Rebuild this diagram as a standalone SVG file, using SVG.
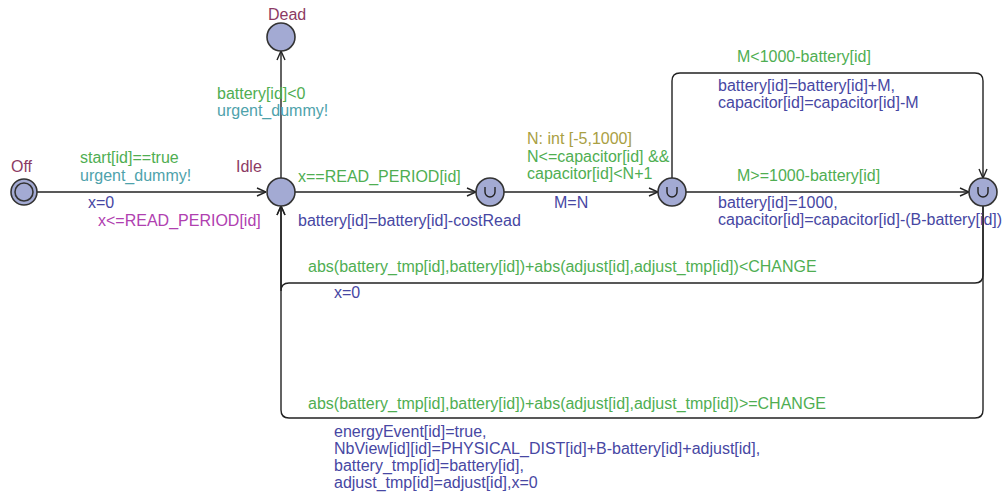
<svg xmlns="http://www.w3.org/2000/svg" width="1003" height="497" viewBox="0 0 1003 497">
  <style>
    text { font-family: "Liberation Sans", Arial, sans-serif; font-size: 16px; }
    .name { fill: #8c3a64; }
    .guard { fill: #4fae52; }
    .sync { fill: #4ea2ab; }
    .upd { fill: #4747a3; }
    .inv { fill: #b040b0; }
    .sel { fill: #a9a043; }
    .loc { fill: #a3aad3; stroke: #333; stroke-width: 1.6; }
    .edge { fill: none; stroke: #222; stroke-width: 1.4; }
    .cm { fill: none; stroke: #222; stroke-width: 1.4; }
  </style>
  <defs>
    <marker id="arr" viewBox="0 0 10 10" refX="10" refY="5" markerWidth="10" markerHeight="10" markerUnits="userSpaceOnUse" orient="auto">
      <path d="M1,1 L10,5 L1,9" fill="none" stroke="#222" stroke-width="1.4"/>
    </marker>
  </defs>

  <!-- connectors -->
  <g id="edges">
    <path class="edge" d="M37,192 L266,192" marker-end="url(#arr)"/>
    <path class="edge" d="M281,178 L281,51" marker-end="url(#arr)"/>
    <path class="edge" d="M295,192 L476,192" marker-end="url(#arr)"/>
    <path class="edge" d="M504,192 L658,192" marker-end="url(#arr)"/>
    <path class="edge" d="M686,192 L969,192" marker-end="url(#arr)"/>
    <path class="edge" d="M672,178 L672,81 Q672,73 680,73 L975,73 Q983,73 983,81 L983,178" marker-end="url(#arr)"/>
    <path class="edge" d="M983,206 L983,275 Q983,283 975,283 L289,283 Q281,283 281,291 L281,206" marker-end="url(#arr)"/>
    <path class="edge" d="M983,206 L983,410 Q983,418 975,418 L289,418 Q281,418 281,410 L281,206" marker-end="url(#arr)"/>
  </g>

  <!-- edge labels -->
  <g id="labels">
    <text class="guard" x="80" y="163">start[id]==true</text>
    <text class="sync" x="80" y="181">urgent_dummy!</text>
    <text class="upd" x="88" y="208">x=0</text>

    <text class="guard" x="217" y="99">battery[id]&lt;0</text>
    <text class="sync" x="217" y="116">urgent_dummy!</text>

    <text class="guard" x="298" y="182">x==READ_PERIOD[id]</text>
    <text class="upd" x="298" y="226">battery[id]=battery[id]-costRead</text>

    <text class="sel" x="527" y="144">N: int [-5,1000]</text>
    <text class="guard" x="527" y="162">N&lt;=capacitor[id] &amp;&amp;</text>
    <text class="guard" x="527" y="179">capacitor[id]&lt;N+1</text>
    <text class="upd" x="554" y="208">M=N</text>

    <text class="guard" x="737" y="62">M&lt;1000-battery[id]</text>
    <text class="upd" x="718" y="91">battery[id]=battery[id]+M,</text>
    <text class="upd" x="718" y="108">capacitor[id]=capacitor[id]-M</text>

    <text class="guard" x="737" y="181">M&gt;=1000-battery[id]</text>
    <text class="upd" x="718" y="208">battery[id]=1000,</text>
    <text class="upd" x="718" y="225">capacitor[id]=capacitor[id]-(B-battery[id])</text>

    <text class="guard" x="308" y="272">abs(battery_tmp[id],battery[id])+abs(adjust[id],adjust_tmp[id])&lt;CHANGE</text>
    <text class="upd" x="334" y="298">x=0</text>

    <text class="guard" x="308" y="409">abs(battery_tmp[id],battery[id])+abs(adjust[id],adjust_tmp[id])&gt;=CHANGE</text>
    <text class="upd" x="334" y="437">energyEvent[id]=true,</text>
    <text class="upd" x="334" y="454">NbView[id][id]=PHYSICAL_DIST[id]+B-battery[id]+adjust[id],</text>
    <text class="upd" x="334" y="471">battery_tmp[id]=battery[id],</text>
    <text class="upd" x="334" y="488">adjust_tmp[id]=adjust[id],x=0</text>
  </g>

  <!-- locations -->
  <g id="Off">
    <circle class="loc" cx="24" cy="192" r="13"/>
    <circle cx="24" cy="192" r="9" fill="none" stroke="#333" stroke-width="1.6"/>
    <text class="name" x="11" y="172">Off</text>
  </g>
  <g id="Idle">
    <circle class="loc" cx="281" cy="192" r="14"/>
    <text class="name" x="236" y="172">Idle</text>
    <text class="inv" x="98" y="226">x&lt;=READ_PERIOD[id]</text>
  </g>
  <g id="Dead">
    <circle class="loc" cx="281" cy="37" r="14"/>
    <text class="name" x="268" y="20">Dead</text>
  </g>
  <g id="C1">
    <circle class="loc" cx="490" cy="192" r="14"/>
    <path class="cm" d="M485,187 L485,192 A5,5 0 0 0 495,192 L495,187"/>
  </g>
  <g id="C2">
    <circle class="loc" cx="672" cy="192" r="14"/>
    <path class="cm" d="M667,187 L667,192 A5,5 0 0 0 677,192 L677,187"/>
  </g>
  <g id="C3">
    <circle class="loc" cx="983" cy="192" r="14"/>
    <path class="cm" d="M978,187 L978,192 A5,5 0 0 0 988,192 L988,187"/>
  </g>
</svg>
